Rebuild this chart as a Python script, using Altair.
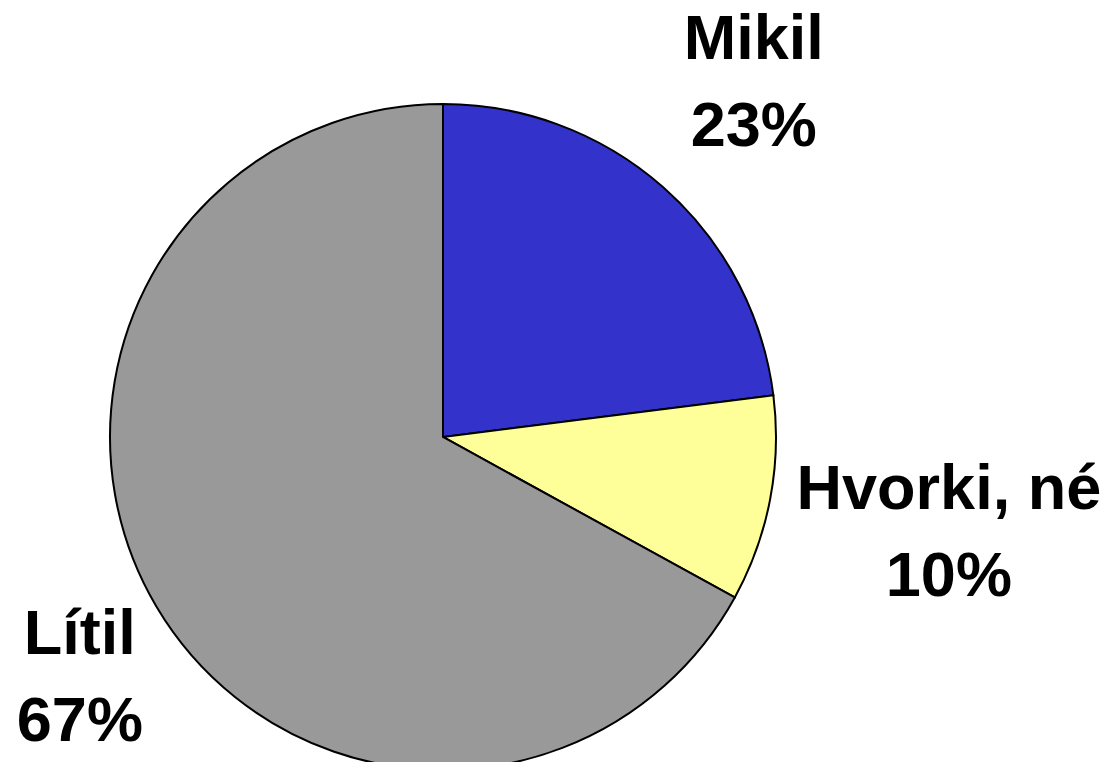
import altair as alt
import pandas as pd

categories = ["Mikil", "Hvorki, né", "Lítil"]
values = [23, 10, 67]
colors = ["#3333CC", "#FFFF99", "#999999"]

df = pd.DataFrame({
    "cat": categories,
    "val": values,
    "idx": list(range(len(categories))),
    "label": [f"{c}\n{v}%" for c, v in zip(categories, values)],
})

CX, CY = 435, 429

pie = alt.Chart(df).mark_arc(stroke="black", strokeWidth=2, outerRadius=333).encode(
    theta=alt.Theta("val:Q", stack=True),
    color=alt.Color("cat:N", scale=alt.Scale(domain=categories, range=colors), legend=None),
    order=alt.Order("idx:Q"),
    x=alt.value(CX),
    y=alt.value(CY),
)

base = alt.Chart(df).transform_window(
    cum="sum(val)", sort=[alt.SortField("idx")], frame=[None, 0]
).transform_calculate(mid="datum.cum - datum.val / 2")

label_layout = {"Mikil": (470, 0, -44), "Hvorki, né": (515, 0, -44), "Lítil": (437, 13, -24)}

layers = [pie]
for cat in categories:
    r, dx, dy = label_layout[cat]
    layers.append(
        base.transform_filter(alt.datum.cat == cat).mark_text(
            font="Liberation Sans", fontSize=63, fontWeight="bold",
            lineBreak="\n", lineHeight=87, radius=r, dx=dx, dy=dy,
            align="center", baseline="middle", color="black",
        ).encode(
            theta=alt.Theta("mid:Q", scale=alt.Scale(domain=[0, 100], range=[0, 6.283185307179586])),
            text="label:N",
            x=alt.value(CX),
            y=alt.value(CY),
        )
    )

chart = alt.layer(*layers).resolve_scale(theta="independent").properties(
    width=1103, height=754, padding=0, autosize=alt.AutoSizeParams(type="none")
).configure_view(stroke=None)

chart.save("out.html", embed_options={"renderer": "svg", "actions": False})
